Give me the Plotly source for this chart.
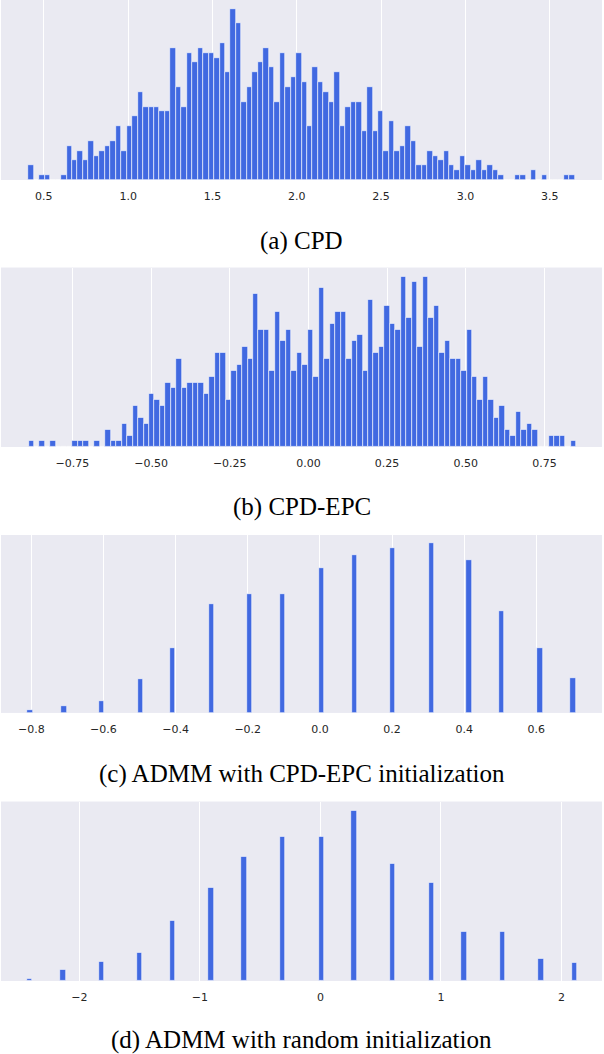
import numpy as np
import plotly.graph_objects as go

# (a) CPD  -- histogram, 100 bins
cpd_start, cpd_width = 0.408, 0.0324
cpd_counts = [3, 0, 1, 1, 0, 0, 1, 7, 4, 6,
              4, 8, 5, 6, 7, 8, 11, 6, 11, 13,
              18, 15, 15, 15, 14, 14, 27, 19, 15, 26,
              24, 27, 26, 26, 25, 28, 22, 35, 32, 16,
              19, 22, 24, 27, 23, 16, 26, 19, 21, 26,
              20, 11, 23, 20, 18, 16, 22, 11, 15, 16,
              16, 10, 19, 10, 14, 6, 12, 6, 7, 11,
              8, 3, 3, 6, 5, 4, 6, 3, 2, 5,
              3, 2, 4, 2, 3, 2, 1, 0, 0, 1,
              1, 0, 2, 0, 1, 0, 0, 0, 1, 1]
cpd_ticks = [0.5, 1.0, 1.5, 2.0, 2.5, 3.0, 3.5]
cpd_ticktext = ["0.5", "1.0", "1.5", "2.0", "2.5", "3.0", "3.5"]

# (b) CPD-EPC -- histogram, 100 bins
epc_start, epc_width = -0.8895, 0.0174
epc_counts = [1, 0, 1, 0, 1, 0, 0, 0, 1, 1,
              1, 0, 1, 0, 3, 1, 1, 4, 2, 7,
              5, 4, 9, 8, 7, 11, 10, 15, 10, 11,
              11, 11, 9, 12, 16, 16, 8, 13, 14, 17,
              15, 26, 20, 20, 13, 23, 18, 20, 13, 16,
              14, 20, 12, 27, 15, 21, 23, 23, 15, 18,
              19, 13, 25, 16, 17, 24, 21, 20, 29, 22,
              28, 17, 29, 22, 24, 16, 18, 15, 15, 13,
              20, 12, 8, 12, 8, 5, 7, 3, 2, 6,
              3, 4, 3, 0, 0, 2, 2, 2, 0, 1]
epc_ticks = [-0.75, -0.5, -0.25, 0.0, 0.25, 0.5, 0.75]
epc_ticktext = ["\u22120.75", "\u22120.50", "\u22120.25", "0.00", "0.25", "0.50", "0.75"]

# (c) ADMM with CPD-EPC initialization -- occupied bins only
admm_epc_x = [-0.803, -0.710, -0.605, -0.498, -0.408, -0.301, -0.195, -0.104,
              0.005, 0.096, 0.201, 0.309, 0.413, 0.504, 0.610, 0.702]
admm_epc_counts = [2, 6, 10, 30, 57, 96, 105, 105, 128, 140, 146, 150, 135, 90, 57, 31]
admm_epc_width = 0.0152
admm_epc_ticks = [-0.8, -0.6, -0.4, -0.2, 0.0, 0.2, 0.4, 0.6]
admm_epc_ticktext = ["\u22120.8", "\u22120.6", "\u22120.4", "\u22120.2", "0.0", "0.2", "0.4", "0.6"]

# (d) ADMM with random initialization -- occupied bins only
admm_rnd_x = [-2.412, -2.135, -1.816, -1.499, -1.228, -0.906, -0.634, -0.313,
              0.011, 0.280, 0.600, 0.921, 1.193, 1.512, 1.831, 2.106]
admm_rnd_counts = [2, 10, 17, 25, 53, 82, 109, 127, 127, 150, 103, 86, 43, 43, 20, 16]
admm_rnd_width = 0.0455
admm_rnd_ticks = [-2, -1, 0, 1, 2]
admm_rnd_ticktext = ["\u22122", "\u22121", "0", "1", "2"]

captions = ["(a) CPD", "(b) CPD-EPC", "(c) ADMM with CPD-EPC initialization",
            "(d) ADMM with random initialization"]

H = 1054.0
BAR = "#4169E1"
BG = "#EAEAF2"

cpd_x = cpd_start + cpd_width * (np.arange(len(cpd_counts)) + 0.5)
epc_x = epc_start + epc_width * (np.arange(len(epc_counts)) + 0.5)

panels = [
    dict(x=cpd_x, y=cpd_counts, w=cpd_width, xr=[0.246, 3.81],
         tv=cpd_ticks, tt=cpd_ticktext, top=0.0, bot=180.0, cap=241),
    dict(x=epc_x, y=epc_counts, w=epc_width, xr=[-0.977, 0.933],
         tv=epc_ticks, tt=epc_ticktext, top=267.7, bot=447.0, cap=507),
    dict(x=admm_epc_x, y=admm_epc_counts, w=admm_epc_width, xr=[-0.884, 0.782],
         tv=admm_epc_ticks, tt=admm_epc_ticktext, top=535.0, bot=712.7, cap=774),
    dict(x=admm_rnd_x, y=admm_rnd_counts, w=admm_rnd_width, xr=[-2.650, 2.336],
         tv=admm_rnd_ticks, tt=admm_rnd_ticktext, top=801.7, bot=981.0, cap=1040),
]

fig = go.Figure()
layout = dict(width=604, height=1054, margin=dict(l=1, r=2, t=0, b=0),
              paper_bgcolor="white", plot_bgcolor=BG, showlegend=False,
              bargap=0, annotations=[], shapes=[])

for i, p in enumerate(panels):
    n = "" if i == 0 else str(i + 1)
    fig.add_trace(go.Bar(x=p["x"], y=p["y"], width=p["w"],
                         marker=dict(color=BAR, line=dict(color="white", width=0.6)),
                         xaxis="x" + n, yaxis="y" + n, hoverinfo="x+y"))
    ymax = max(p["y"]) * 1.05
    layout["xaxis" + n] = dict(domain=[0, 1], anchor="y" + n, range=p["xr"],
                               tickvals=p["tv"], ticktext=p["tt"],
                               showgrid=True, gridcolor="white", gridwidth=1,
                               zeroline=False, showline=False,
                               ticks="outside", ticklen=6, tickcolor="rgba(0,0,0,0)",
                               tickfont=dict(family="DejaVu Sans", size=11, color="#262626"))
    layout["yaxis" + n] = dict(domain=[1 - p["bot"] / H, 1 - p["top"] / H],
                               anchor="x" + n, range=[0, ymax],
                               showgrid=False, zeroline=False, showline=False,
                               showticklabels=False, ticks="")
    # shaded plot area for each panel
    layout["shapes"].append(dict(type="rect", xref="paper", yref="paper", x0=0, x1=1,
                                 y0=1 - p["bot"] / H, y1=1 - p["top"] / H,
                                 fillcolor=BG, line=dict(width=0), layer="below"))
    layout["annotations"].append(dict(text=captions[i], xref="paper", yref="paper",
                                      x=0.5, y=1 - p["cap"] / H, xanchor="center",
                                      yanchor="middle", showarrow=False,
                                      font=dict(family="Liberation Serif", size=25,
                                                color="black")))

fig.update_layout(**layout)
# drop the default page margin so the figure fills the window exactly
fig.write_html("out.html", config={"displayModeBar": False},
               post_script="document.body.style.margin='0';document.body.style.overflow='hidden';")
